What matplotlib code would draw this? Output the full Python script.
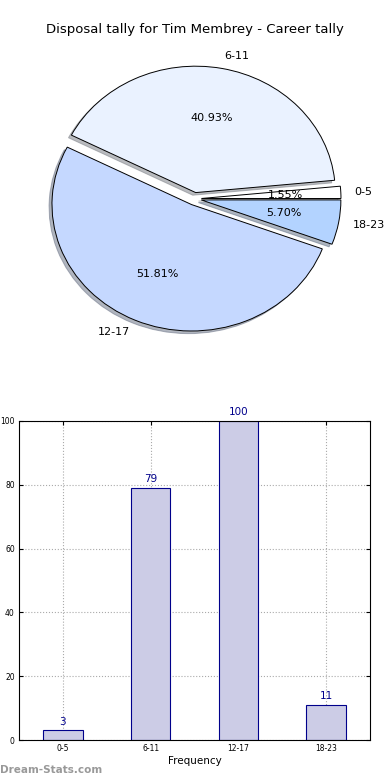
import matplotlib
matplotlib.use("Agg")
import matplotlib.pyplot as plt

categories = ["0-5", "6-11", "12-17", "18-23"]
counts = [3, 79, 100, 11]
pie_colors = ["#ffffff", "#eaf2ff", "#c5d8ff", "#b3d3ff"]

fig = plt.figure(figsize=(3.9, 7.8), dpi=100)

# pie chart (not forced round, like the old matplotlib default)
ax1 = fig.add_axes([19.9 / 390, (780 - 356.8) / 780, 349 / 390, 316 / 780])
wedges, texts, autotexts = ax1.pie(
    counts, labels=categories, colors=pie_colors, autopct="%1.2f%%",
    explode=[0.05] * len(counts),
    shadow=dict(ox=-0.015, oy=-0.015, shade=0.5), startangle=0,
    wedgeprops=dict(edgecolor="black", linewidth=0.7),
    textprops=dict(fontsize=8))
ax1.set_aspect("auto")
ax1.set_xlim(-1.25, 1.25)
ax1.set_ylim(-1.25, 1.25)
ax1.axis("off")
fig.text(0.5, 1 - 30 / 780, "Disposal tally for Tim Membrey - Career tally",
         ha="center", va="center", fontsize=9.5)

# bar chart
ax2 = fig.add_axes([19 / 390, 40 / 780, 351 / 390, 319 / 780])
x = range(len(categories))
bars = ax2.bar(x, counts, width=0.45, color="#ccccE6", edgecolor="#00008b",
               linewidth=0.8, zorder=2)
for xi, c in zip(x, counts):
    ax2.text(xi, c + 1.2, str(c), ha="center", va="bottom", color="#00008b",
             fontsize=7.5)
ax2.set_xlim(-0.5, 3.5)
ax2.set_ylim(0, 100)
ax2.set_xticks(list(x))
ax2.set_xticklabels(categories)
ax2.set_yticks(range(0, 101, 20))
ax2.tick_params(labelsize=5.5, direction="in", top=True, right=True,
                length=3, pad=3)
ax2.grid(True, linestyle=":", color="#aaaaaa", linewidth=0.8, zorder=0)
ax2.set_axisbelow(True)
ax2.set_xlabel("Frequency", fontsize=7.5, labelpad=2)

fig.text(0.0, 1 - 770 / 780, "Dream-Stats.com", color="#999999",
         fontsize=7.5, fontweight="bold", ha="left", va="center")

fig.savefig("out.png", dpi=100)
